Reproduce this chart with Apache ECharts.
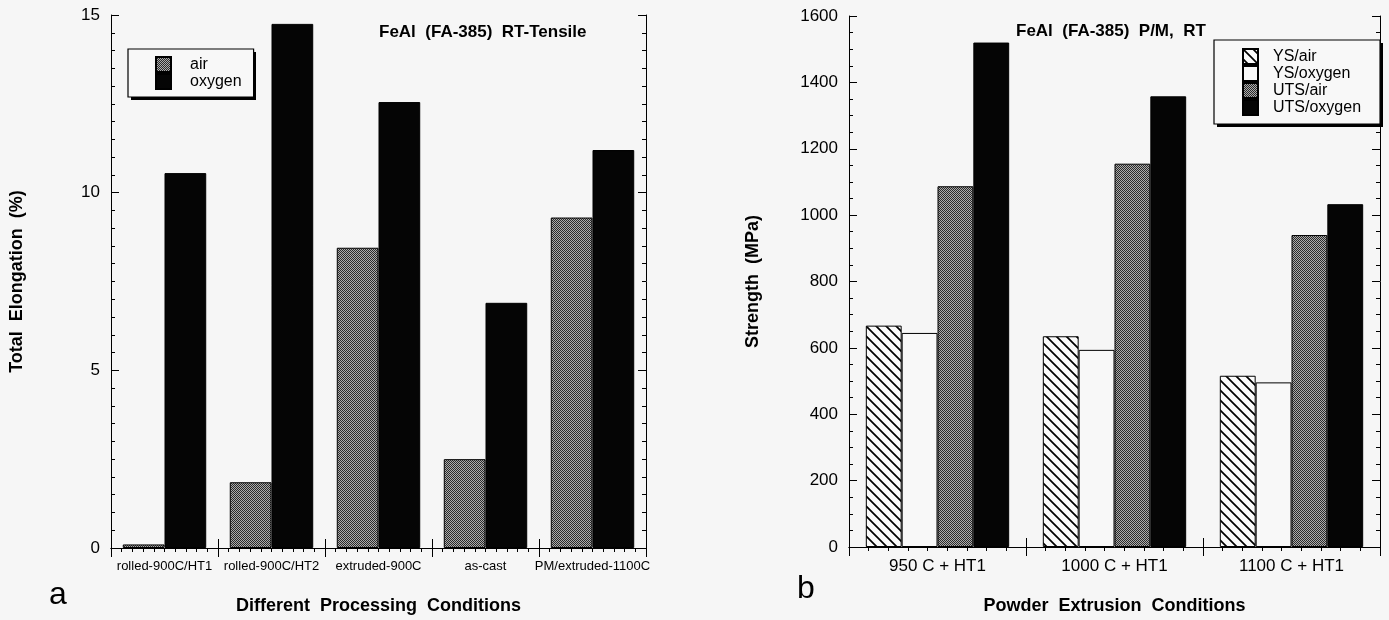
<!DOCTYPE html>
<html>
<head>
<meta charset="utf-8">
<script src="https://cdn.jsdelivr.net/npm/echarts@6/dist/echarts.min.js"></script>
<style>
  html, body { margin: 0; padding: 0; background: #f6f6f6; }
  #chart { width: 1389px; height: 620px; }
</style>
</head>
<body>
<div id="chart"></div>
<script>
// Panel a: total elongation by processing condition
const conditions = ['rolled-900C/HT1', 'rolled-900C/HT2', 'extruded-900C', 'as-cast', 'PM/extruded-1100C'];
const elongAir = [0.1, 1.85, 8.45, 2.5, 9.3];
const elongOxygen = [10.55, 14.75, 12.55, 6.9, 11.2];
const elongTicks = [0, 5, 10, 15];

// Panel b: yield and ultimate strength by extrusion condition
const extrusions = ['950 C + HT1', '1000 C + HT1', '1100 C + HT1'];
const ysAir = [667, 635, 516];
const ysOxygen = [645, 594, 496];
const utsAir = [1087, 1155, 940];
const utsOxygen = [1520, 1358, 1033];
const strengthTicks = [0, 200, 400, 600, 800, 1000, 1200, 1400, 1600];

const FONT = '"Liberation Sans", Arial, Helvetica, sans-serif';

// fine dot screen used for the grey fills
function stipple(dark, light) {
  const c = document.createElement('canvas');
  c.width = c.height = 4;
  const g = c.getContext('2d');
  for (let y = 0; y < 4; y++) {
    for (let x = 0; x < 4; x++) {
      g.fillStyle = (x + y) % 2 ? light : dark;
      g.fillRect(x, y, 1, 1);
    }
  }
  return c;
}

// diagonal "\" hatching
function hatch() {
  const s = 10;
  const c = document.createElement('canvas');
  c.width = c.height = s;
  const g = c.getContext('2d');
  g.fillStyle = '#fafafa';
  g.fillRect(0, 0, s, s);
  g.strokeStyle = '#000';
  g.lineWidth = 1.7;
  g.beginPath();
  g.moveTo(-1, -1); g.lineTo(s + 1, s + 1);
  g.moveTo(-1, s - 1); g.lineTo(1, s + 1);
  g.moveTo(s - 1, -1); g.lineTo(s + 1, 1);
  g.stroke();
  return c;
}

const greyFill = { image: stipple('#2a2a2a', '#acacac'), repeat: 'repeat' };
const hatchFill = { image: hatch(), repeat: 'repeat' };

const gridA = { left: 111, top: 15, width: 535, height: 534 };
const gridB = { left: 849, top: 16, width: 531, height: 532 };

const axisLine = { show: true, lineStyle: { color: '#000', width: 1 } };
const nameStyle = { color: '#000', fontSize: 18, fontWeight: 'bold', fontFamily: FONT };

function catAxis(gridIndex, data, fontSize, margin, name, nameGap) {
  return {
    type: 'category', gridIndex, data, position: 'bottom',
    boundaryGap: true,
    axisLine,
    axisTick: { show: true, inside: true, length: 9, alignWithLabel: false, lineStyle: { color: '#000' } },
    axisLabel: { interval: 0, margin, color: '#000', fontSize, fontFamily: FONT },
    name, nameLocation: 'middle', nameGap, nameTextStyle: nameStyle
  };
}

function frameAxisX(gridIndex, count, split) {
  return {
    type: 'value', gridIndex, position: 'top', min: 0, max: count, interval: 1,
    axisLine,
    axisTick: { show: true, inside: true, length: 9, lineStyle: { color: '#000' } },
    minorTick: { show: true, splitNumber: split, length: 4, lineStyle: { color: '#000' } },
    axisLabel: { show: false }, splitLine: { show: false }
  };
}

function valAxis(gridIndex, ticks, split, name, nameGap, position) {
  const labelled = position === 'left';
  return {
    type: 'value', gridIndex, position,
    min: ticks[0], max: ticks[ticks.length - 1], interval: ticks[1] - ticks[0],
    axisLine,
    axisTick: { show: true, inside: true, length: 8, lineStyle: { color: '#000' } },
    minorTick: { show: true, splitNumber: split, length: 4, lineStyle: { color: '#000' } },
    axisLabel: { show: labelled, margin: 11, color: '#000', fontSize: 17, fontFamily: FONT,
      formatter: v => String(v) },
    splitLine: { show: false },
    name: labelled ? name : '', nameLocation: 'middle', nameGap, nameTextStyle: nameStyle
  };
}

const barBorder = { borderColor: '#000', borderWidth: 1 };

const legendBase = {
  orient: 'vertical',
  icon: 'rect',
  itemWidth: 15,
  itemHeight: 15,
  itemGap: 0,
  backgroundColor: '#f8f8f8',
  borderColor: '#000',
  borderWidth: 1.2,
  borderRadius: 0,
  selectedMode: false,
  z: 6
};

const legendText = (gap) => ({ color: '#000', fontSize: 16, fontFamily: FONT, lineHeight: 15, padding: [0, 0, 0, gap] });

const titleStyle = (size, weight) => ({ color: '#000', fontSize: size, fontWeight: weight, fontFamily: FONT });

const option = {
  backgroundColor: '#f6f6f6',
  animation: false,
  title: [
    { text: 'FeAl  (FA-385)  RT-Tensile', left: 379, top: 24, padding: 0, textStyle: titleStyle(17, 'bold') },
    { text: 'FeAl  (FA-385)  P/M,  RT', left: 1016, top: 23, padding: 0, textStyle: titleStyle(17, 'bold') },
    { text: 'a', left: 49, top: 579, padding: 0, textStyle: titleStyle(32, 'normal') },
    { text: 'b', left: 797, top: 573, padding: 0, textStyle: titleStyle(32, 'normal') }
  ],
  // drop shadows behind the two legend boxes
  graphic: [
    { type: 'rect', z: 5, shape: { x: 131, y: 52, width: 125, height: 48 }, style: { fill: '#000' }, silent: true },
    { type: 'rect', z: 5, shape: { x: 1217, y: 43, width: 166, height: 84 }, style: { fill: '#000' }, silent: true }
  ],
  legend: [
    Object.assign({}, legendBase, { left: 128, top: 49, padding: [7, 12, 7, 27],
      textStyle: legendText(14), data: ['air', 'oxygen'] }),
    Object.assign({}, legendBase, { left: 1214, top: 40, padding: [8, 19, 8, 28],
      textStyle: legendText(10), data: ['YS/air', 'YS/oxygen', 'UTS/air', 'UTS/oxygen'] })
  ],
  grid: [gridA, gridB],
  xAxis: [
    catAxis(0, conditions, 13, 12, 'Different  Processing  Conditions', 49),
    frameAxisX(0, conditions.length, 10),
    catAxis(1, extrusions, 17, 11, 'Powder  Extrusion  Conditions', 50),
    frameAxisX(1, extrusions.length, 9)
  ],
  yAxis: [
    valAxis(0, elongTicks, 10, 'Total  Elongation  (%)', 85, 'left'),
    valAxis(0, elongTicks, 10, '', 0, 'right'),
    valAxis(1, strengthTicks, 4, 'Strength  (MPa)', 87, 'left'),
    valAxis(1, strengthTicks, 4, '', 0, 'right')
  ],
  series: [
    { name: 'air', type: 'bar', xAxisIndex: 0, yAxisIndex: 0, data: elongAir,
      barGap: '0%', barCategoryGap: '22%', itemStyle: Object.assign({ color: greyFill }, barBorder) },
    { name: 'oxygen', type: 'bar', xAxisIndex: 0, yAxisIndex: 0, data: elongOxygen,
      barGap: '0%', barCategoryGap: '22%', itemStyle: Object.assign({ color: '#050505' }, barBorder) },
    { name: 'YS/air', type: 'bar', xAxisIndex: 2, yAxisIndex: 2, data: ysAir,
      barGap: '0%', barCategoryGap: '19%', itemStyle: Object.assign({ color: hatchFill }, barBorder) },
    { name: 'YS/oxygen', type: 'bar', xAxisIndex: 2, yAxisIndex: 2, data: ysOxygen,
      barGap: '0%', barCategoryGap: '19%', itemStyle: Object.assign({ color: '#f8f8f8' }, barBorder) },
    { name: 'UTS/air', type: 'bar', xAxisIndex: 2, yAxisIndex: 2, data: utsAir,
      barGap: '0%', barCategoryGap: '19%', itemStyle: Object.assign({ color: greyFill }, barBorder) },
    { name: 'UTS/oxygen', type: 'bar', xAxisIndex: 2, yAxisIndex: 2, data: utsOxygen,
      barGap: '0%', barCategoryGap: '19%', itemStyle: Object.assign({ color: '#050505' }, barBorder) }
  ]
};

const chart = echarts.init(document.getElementById('chart'), null, { renderer: 'canvas' });
chart.setOption(option);
</script>
</body>
</html>
